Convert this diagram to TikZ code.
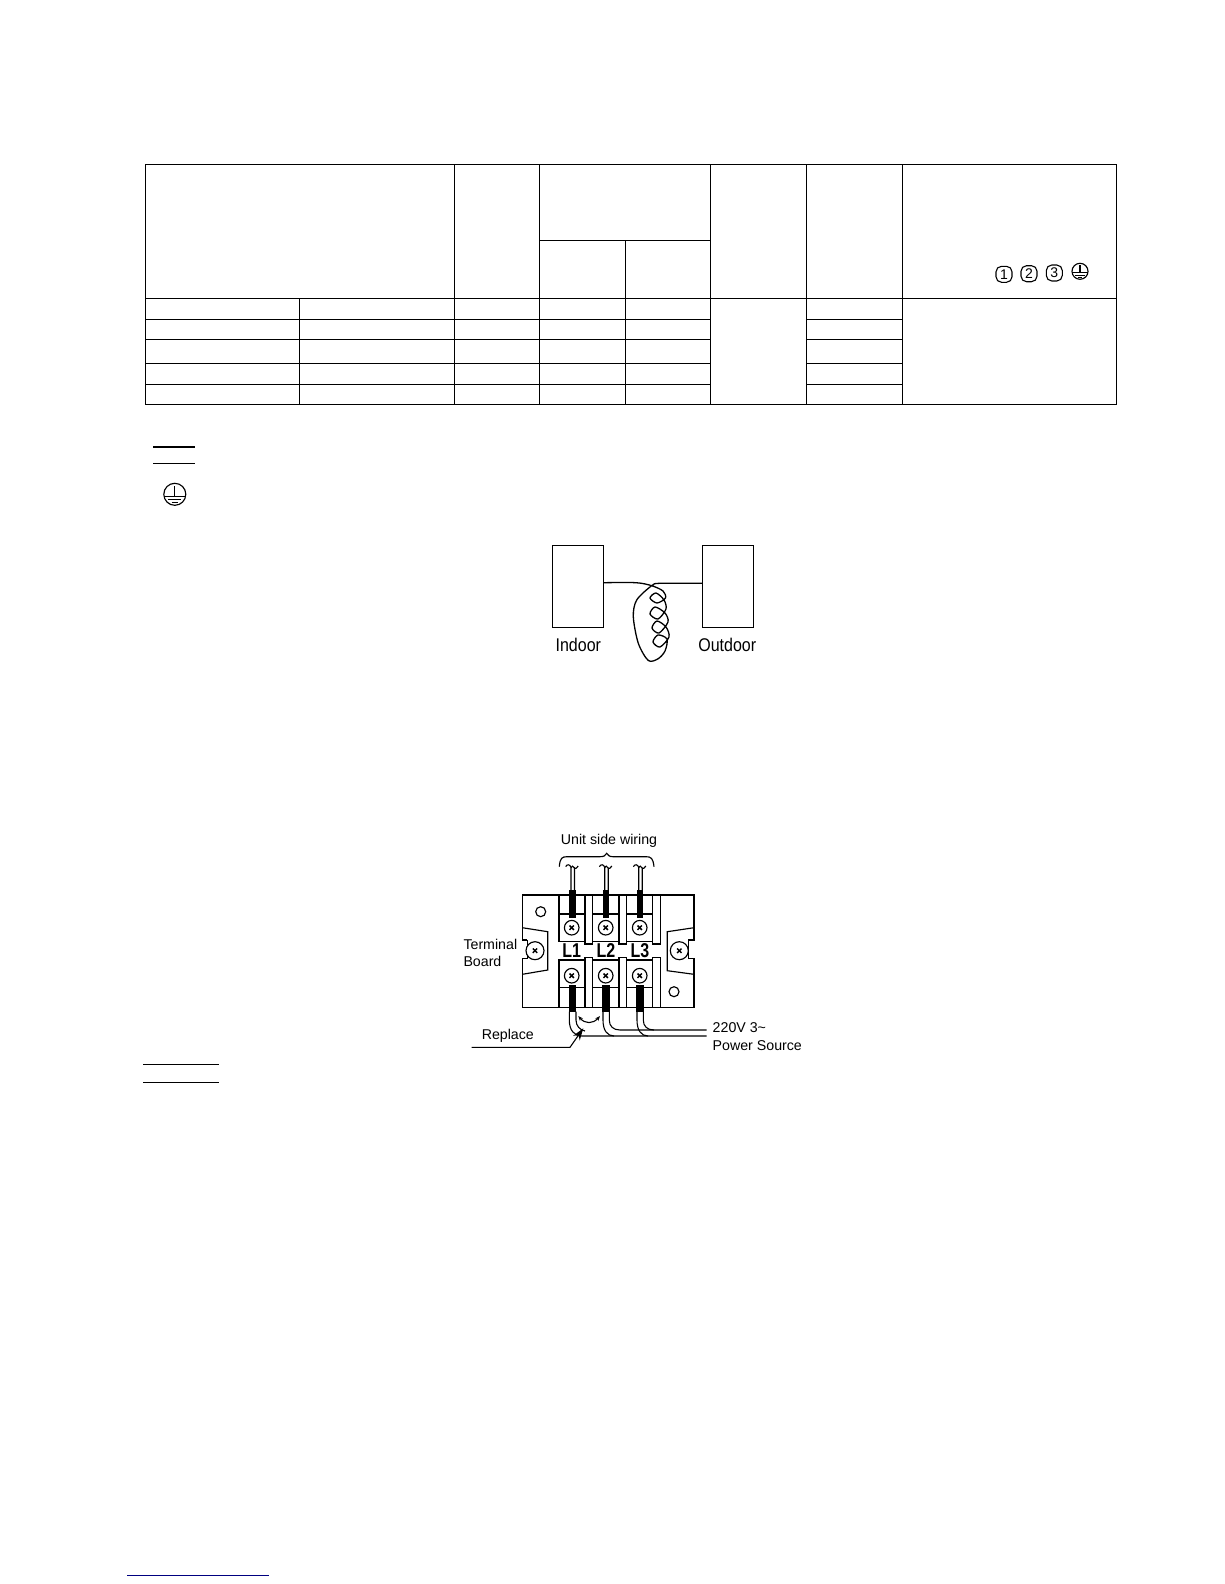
\documentclass[tikz,border=0pt]{standalone}
\usepackage{fontspec}
\usepackage{graphicx}
\setmainfont{Liberation Sans}
\usetikzlibrary{calc,arrows.meta}
\def\screwhead(#1)(#2){\draw[boardline, fill=white] (#1) circle (#2);
	\draw[line width=0.5mm] ($(#1)+(-2.2,-2.2)$) -- ($(#1)+(2.2,2.2)$);
	\draw[line width=0.5mm] ($(#1)+(-2.2,2.2)$) -- ($(#1)+(2.2,-2.2)$);}
\def\earthmark(#1)(#2){\draw[boardline] (#1) circle (#2);
	\draw[boardline] ($(#1)+(0,-0.75*#2)$) -- ($(#1)+(0,0.2*#2)$);
	\draw[boardline] ($(#1)+(-0.95*#2,0.2*#2)$) -- ($(#1)+(0.95*#2,0.2*#2)$);
	\draw[boardline] ($(#1)+(-0.6*#2,0.5*#2)$) -- ($(#1)+(0.6*#2,0.5*#2)$);
	\draw[boardline] ($(#1)+(-0.3*#2,0.75*#2)$) -- ($(#1)+(0.3*#2,0.75*#2)$);}
\def\feedwire(#1){\draw[wireline, shift={(#1,0)}] (-0.7,890) -- (-0.7,867.5) .. controls (-1.5,864) and (-5,864) .. (-6,866.7);
	\draw[wireline, shift={(#1,0)}] (2.8,890) -- (2.8,868) .. controls (3.5,869) and (5,868.5) .. (6.5,866);
	\draw[wireline, shift={(#1,0)}] (-0.7,867.5) .. controls (0,865) and (1.5,866) .. (2.8,868);
	\fill[shift={(#1,0)}] (-2.8,890) rectangle (4,918);}
\def\bornecap(#1){\fill[shift={(#1,0)}] (-3.6,985) rectangle (3.6,1011.7);}
\tikzset{
	x=1pt, y=-1pt,
	tablerule/.style={line width=1.5pt},
	boardline/.style={line width=1.15pt},
	wireline/.style={line width=1.1pt},
	boardlabel/.style={font=\fontsize{14.2}{16}\selectfont, inner sep=0pt},
	bornelabel/.style={font=\bfseries\fontsize{20}{22}\selectfont, inner sep=0pt},
	unitlabel/.style={font=\fontsize{16}{18}\selectfont, inner sep=0pt},
	cellmark/.style={draw, rounded corners=5.5pt, line width=1.1pt, inner sep=0pt, minimum size=16pt, font=\fontsize{14}{15}\selectfont},
}
\definecolor{linknavy}{RGB}{0,0,128}
\begin{document}
\begin{tikzpicture}
	%%%%% START %%%%%
	\useasboundingbox (0,0) rectangle (1224,1584);
	
	% table
	\draw[tablerule] (145.7,164.5) rectangle (1116.3,404.5);
	\draw[tablerule] (145.7,298.5) -- (1116.3,298.5);
	\draw[tablerule] (454.5,164.5) -- (454.5,404.5);
	\draw[tablerule] (539.5,164.5) -- (539.5,404.5);
	\draw[tablerule] (710.5,164.5) -- (710.5,404.5);
	\draw[tablerule] (806.5,164.5) -- (806.5,404.5);
	\draw[tablerule] (902.5,164.5) -- (902.5,404.5);
	\draw[tablerule] (299.5,298.5) -- (299.5,404.5);
	\draw[tablerule] (625.5,240.5) -- (625.5,404.5);
	\draw[tablerule] (539.5,240.5) -- (710.5,240.5);
	\draw[tablerule] (145.7,319.5) -- (710.5,319.5);
	\draw[tablerule] (145.7,339.5) -- (710.5,339.5);
	\draw[tablerule] (145.7,363.5) -- (710.5,363.5);
	\draw[tablerule] (145.7,384.5) -- (710.5,384.5);
	\draw[tablerule] (806.5,319.5) -- (902.5,319.5);
	\draw[tablerule] (806.5,339.5) -- (902.5,339.5);
	\draw[tablerule] (806.5,363.5) -- (902.5,363.5);
	\draw[tablerule] (806.5,384.5) -- (902.5,384.5);
	
	\node[cellmark] (markone) at (1004,274.3) {1};
	\node[cellmark] (marktwo) at (1029,273.7) {2};
	\node[cellmark] (markthree) at (1054.3,273) {3};
	\earthmark(1080,271.3)(8)
	
	% note rules
	\draw[tablerule] (153,447) -- (195,447);
	\draw[tablerule] (153,463.3) -- (195,463.3);
	\earthmark(174.8,494.3)(11)
	
	% indoor, outdoor
	\draw[boardline] (552.3,545.3) rectangle (603.3,627.3);
	\draw[boardline] (702.3,545.3) rectangle (753.7,627.3);
	\node[unitlabel] (indoor) at (578.3,645) {\scalebox{1}[1.15]{Indoor}};
	\node[unitlabel] (outdoor) at (727.3,645) {\scalebox{1}[1.15]{Outdoor}};
	\draw[line width=1.3pt] plot[smooth] coordinates {(603.3,582.7) (636,582.7) (651.7,585.7) (663,591) (665.5,598) (657,603) (650,598) (656,593) (664,600) (666,609) (658,619) (650,614) (655,607) (665,613) (668,622) (659,633) (652,628) (657,621) (666,627) (669,637) (660,647) (653,642) (658,635) (667,639) (665,651) (658,658.8) (648.3,660.5) (638.3,643.3) (633.3,616.7) (636.7,600) (651.7,585.7) (660,583.3) (702.3,583.3)};
	
	% terminal board
	\node[boardlabel] (unitside) at (609,841) {Unit side wiring};
	\draw[boardline] (559.3,866.7) .. controls (560,858) and (562,856.7) .. (567,856.7) -- (600,856.7) .. controls (604,856.7) and (605.5,855.5) .. (606.7,853.3) .. controls (608,855.5) and (609.5,856.7) .. (613,856.7) -- (646,856.7) .. controls (651,856.7) and (653,858) .. (654,866.7);
	
	\draw[boardline] (522.3,940) -- (522.3,895) -- (694,895) -- (694,940) -- (688.3,940);
	\draw[boardline] (527.3,940) -- (522.3,940);
	\draw[boardline] (527.3,940) -- (527.3,958.3) -- (522.3,958.3) -- (522.3,1007.3) -- (694,1007.3) -- (694,958.3) -- (688.3,958.3) -- (688.3,940);
	\draw[boardline] (522.3,927.7) -- (547.7,931.7) -- (547.7,970) -- (522.3,974.3);
	\draw[boardline] (694,927.7) -- (667.3,931.7) -- (667.3,970.7) -- (694,974.3);
	
	\draw[boardline] (559,895) -- (559,941.7) -- (585,941.7) -- (585,895);
	\draw[boardline] (592.7,895) -- (592.7,941.7) -- (619,941.7) -- (619,895);
	\draw[boardline] (626.7,895) -- (626.7,941.7) -- (652.7,941.7) -- (652.7,895);
	\draw[boardline] (585,941.7) -- (585,944) -- (592.7,944) -- (592.7,941.7);
	\draw[boardline] (619,941.7) -- (619,944) -- (626.7,944) -- (626.7,941.7);
	\draw[boardline] (652.7,941.7) -- (652.7,944) -- (660.7,944) -- (660.7,895);
	\draw[boardline] (559,914) -- (585,914);
	\draw[boardline] (592.7,914) -- (619,914);
	\draw[boardline] (626.7,914) -- (652.7,914);
	
	\draw[boardline] (559,1007.3) -- (559,960) -- (585,960) -- (585,1007.3);
	\draw[boardline] (592.7,1007.3) -- (592.7,960) -- (619,960) -- (619,1007.3);
	\draw[boardline] (626.7,1007.3) -- (626.7,960) -- (652.7,960) -- (652.7,1007.3);
	\draw[boardline] (585,960) -- (585,957.7) -- (592.7,957.7) -- (592.7,960);
	\draw[boardline] (619,960) -- (619,957.7) -- (626.7,957.7) -- (626.7,960);
	\draw[boardline] (652.7,960) -- (652.7,957.7) -- (660.7,957.7) -- (660.7,1007.3);
	\draw[boardline] (559,987.7) -- (585,987.7);
	\draw[boardline] (592.7,987.7) -- (619,987.7);
	\draw[boardline] (626.7,987.7) -- (652.7,987.7);
	
	\draw[boardline] (540.7,911.7) circle (5);
	\draw[boardline] (674,991.7) circle (5);
	
	\feedwire(571.7)
	\feedwire(605.4)
	\feedwire(639.4)
	
	\screwhead(571.7,927.7)(7.3)
	\screwhead(605.7,927.7)(7.3)
	\screwhead(639.7,927.7)(7.3)
	\screwhead(571.7,975.7)(7.3)
	\screwhead(605.7,975.7)(7.3)
	\screwhead(639.7,975.7)(7.3)
	\screwhead(535,950.7)(9)
	\screwhead(679.3,950.7)(9)
	
	\node[bornelabel] (lineone) at (571.7,950.7) {\scalebox{0.8}[1]{L1}};
	\node[bornelabel] (linetwo) at (606,950.7) {\scalebox{0.8}[1]{L2}};
	\node[bornelabel] (linethree) at (640,950.7) {\scalebox{0.8}[1]{L3}};
	
	\bornecap(572.3)
	\bornecap(606)
	\bornecap(640)
	
	% supply wires
	\draw[wireline] (569.3,1011.7) -- (569.3,1020) .. controls (569.3,1030) and (574,1036) .. (582,1036) -- (706.7,1036);
	\draw[wireline] (576,1011.7) -- (576,1020) .. controls (576,1026) and (580,1030) .. (585,1031);
	\draw[wireline] (603,1011.7) -- (603,1020) .. controls (603,1030) and (607,1036) .. (614,1036);
	\draw[wireline] (609.3,1011.7) -- (609.3,1020) .. controls (609.3,1026) and (613,1030) .. (620,1030) -- (706.7,1030);
	\draw[wireline] (637,1011.7) -- (637,1020) .. controls (637,1030) and (641,1036) .. (648,1036);
	\draw[wireline] (643.3,1011.7) -- (643.3,1020) .. controls (643.3,1026) and (647,1030) .. (654,1030);
	
	\draw[wireline, {Stealth[length=5pt,width=4pt]}-{Stealth[length=5pt,width=4pt]}] (578.3,1016) .. controls (585,1024) and (593,1024) .. (600,1016);
	\draw[wireline, -{Stealth[length=12pt,width=8pt]}] (471.7,1047.3) -- (570,1047.3) -- (583.3,1028.3);
	
	\node[boardlabel, anchor=west] (terminal) at (463.3,944.3) {Terminal};
	\node[boardlabel, anchor=west] (board) at (463.3,961.7) {Board};
	\node[boardlabel] (replace) at (507.8,1036.3) {Replace};
	\node[boardlabel, anchor=west] (voltage) at (712.5,1027.7) {220V 3\char`\~};
	\node[boardlabel, anchor=west] (source) at (712.5,1045.3) {Power Source};
	
	% lower rules
	\draw[tablerule] (143,1064.3) -- (219,1064.3);
	\draw[tablerule] (143,1082.3) -- (219,1082.3);
	\draw[tablerule, color=linknavy] (127,1575.3) -- (269,1575.3);
	
	%%%%% END %%%%%
\end{tikzpicture}
\end{document}
